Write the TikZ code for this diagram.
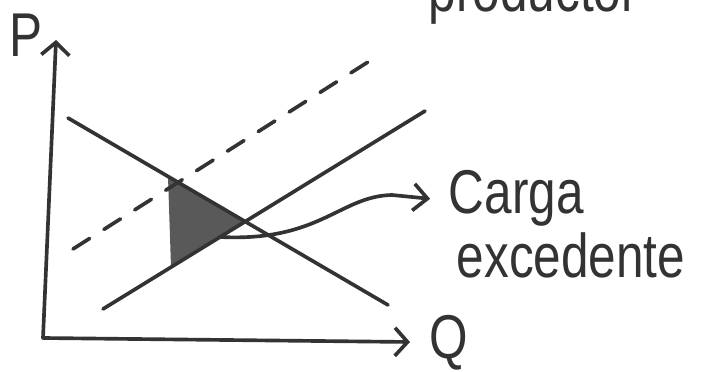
\documentclass[tikz,border=0pt]{standalone}
\usepackage{fontspec}
\newfontfamily\handfont[FakeStretch=0.8]{Liberation Sans}
\usetikzlibrary{arrows.meta}

\begin{document}
\begin{tikzpicture}[x=0.025cm, y=-0.025cm,
    line width=2.6pt, line cap=round, line join=round, draw=black!80,
    ax/.style={-{Straight Barb[length=9pt,width=20pt]}},
    txt/.style={font=\handfont\fontsize{44}{50}\selectfont, text=black!80,
                inner sep=0pt, anchor=base west}]
  \clip (0,0) rectangle (702,372);

  % ejes
  \coordinate (o) at (43,338);
  \coordinate (ytop) at (56,40);
  \coordinate (xend) at (410,342);
  \draw[ax] (o) -- (ytop);
  \draw[ax] (o) -- (xend);
  \node[txt] (plab) at (8,57) {P};
  \node[txt] (qlab) at (428,358) {Q};

  % demanda, oferta y oferta desplazada
  \coordinate (d1) at (68,118);  \coordinate (d2) at (388,305);
  \coordinate (s1) at (103,309); \coordinate (s2) at (425,111);
  \coordinate (t1) at (73,249);  \coordinate (t2) at (368,62);

  \coordinate (ta) at (168,177); \coordinate (tb) at (171,267);
  \coordinate (eq) at (245,222);
  \fill[black!65] (ta) -- (eq) -- (tb) -- cycle;

  \draw (d1) -- (d2);
  \draw (s1) -- (s2);
  \draw[dash pattern=on 14pt off 12pt] (t1) -- (t2);

  % etiqueta
  \node[txt] (top) at (427,12) {productor};
  \node[txt] (carga) at (447,214) {Carga};
  \node[txt] (exc) at (455,278) {excedente};
  \coordinate (c0) at (220,237);
  \draw[-{Straight Barb[length=10pt,width=19pt]}]
        (c0) .. controls (320,242) and (340,196) .. (392,195)
        -- ([xshift=-12pt]carga.west);
\end{tikzpicture}
\end{document}
